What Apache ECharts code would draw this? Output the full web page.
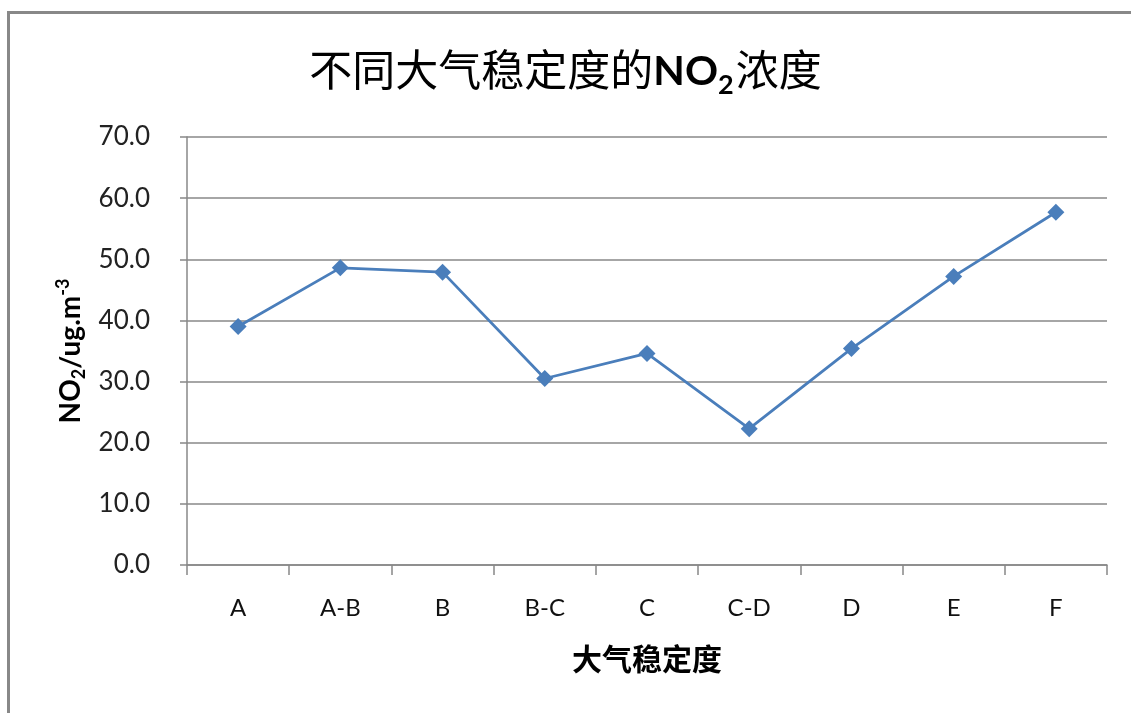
<!DOCTYPE html>
<html>
<head>
<meta charset="utf-8">
<script src="https://cdn.jsdelivr.net/npm/echarts@6/dist/echarts.min.js"></script>
<style>
html, body { margin: 0; padding: 0; background: #fff; }
#main { width: 1131px; height: 713px; }
</style>
</head>
<body>
<div id="main"></div>
<script>
// 大气稳定度分类
var categories = ['A', 'A-B', 'B', 'B-C', 'C', 'C-D', 'D', 'E', 'F'];
// NO2 浓度 ug/m3
var no2Values = [39.0, 48.6, 47.9, 30.5, 34.6, 22.3, 35.4, 47.2, 57.7];
var yTicks = { min: 0, max: 70, interval: 10 };

var cjk = '"Lato", "Noto Sans CJK SC", sans-serif';

var chart = echarts.init(document.getElementById('main'));
var option = {
  backgroundColor: '#fff',
  animation: false,
  title: {
    text: '{a|不同大气稳定度的}{b|NO}{s|2}{a|浓度}',
    left: 'center',
    top: 40,
    textStyle: {
      rich: {
        a: { fontSize: 43, fontFamily: cjk, fontWeight: 'normal', color: '#000', lineHeight: 54, verticalAlign: 'middle' },
        b: { fontSize: 41, fontFamily: cjk, fontWeight: 'bold', color: '#000', lineHeight: 54, verticalAlign: 'middle' },
        s: { fontSize: 27, fontFamily: cjk, fontWeight: 'bold', color: '#000', lineHeight: 54, verticalAlign: 'bottom', padding: [0, 2, 0, 0] }
      }
    }
  },
  graphic: [{
    type: 'rect',
    shape: { x: 8.5, y: 12.5, width: 1200, height: 800 },
    style: { fill: 'none', stroke: '#888', lineWidth: 3 },
    silent: true
  }],
  grid: { left: 187, right: 24, top: 137, bottom: 148 },
  xAxis: {
    type: 'category',
    data: categories,
    boundaryGap: true,
    name: '大气稳定度',
    nameLocation: 'middle',
    nameGap: 80,
    nameTextStyle: { fontSize: 30, fontWeight: 'bold', fontFamily: cjk, color: '#000' },
    axisLine: { lineStyle: { color: '#888', width: 1.5 } },
    axisTick: { show: true, length: 10, alignWithLabel: false, lineStyle: { color: '#888', width: 1.5 } },
    axisLabel: { fontSize: 24, fontFamily: cjk, color: '#111', margin: 31 },
    splitLine: { show: false }
  },
  yAxis: {
    type: 'value',
    min: yTicks.min,
    max: yTicks.max,
    interval: yTicks.interval,
    name: '{b|NO}{s|2}{b|/ug.m}{p|-3}',
    nameLocation: 'middle',
    nameRotate: 90,
    nameGap: 97,
    nameTextStyle: {
      rich: {
        b: { fontSize: 28, fontWeight: 'bold', fontFamily: cjk, color: '#000', lineHeight: 34, verticalAlign: 'middle' },
        s: { fontSize: 18, fontWeight: 'bold', fontFamily: cjk, color: '#000', lineHeight: 34, verticalAlign: 'bottom' },
        p: { fontSize: 18, fontWeight: 'bold', fontFamily: cjk, color: '#000', lineHeight: 34, verticalAlign: 'top' }
      }
    },
    axisLine: { show: true, lineStyle: { color: '#888', width: 1.5 } },
    axisTick: { show: true, inside: false, length: 7, lineStyle: { color: '#888', width: 1.5 } },
    axisLabel: {
      fontSize: 26, fontFamily: cjk, color: '#222', margin: 37,
      formatter: function (v) { return v.toFixed(1); }
    },
    splitLine: { show: true, lineStyle: { color: '#888', width: 1.5 } }
  },
  series: [{
    name: 'NO2',
    type: 'line',
    data: no2Values,
    symbol: 'diamond',
    symbolSize: 17,
    lineStyle: { color: '#4a7ebb', width: 2.8 },
    itemStyle: { color: '#4a7ebb' }
  }]
};
chart.setOption(option);
</script>
</body>
</html>
